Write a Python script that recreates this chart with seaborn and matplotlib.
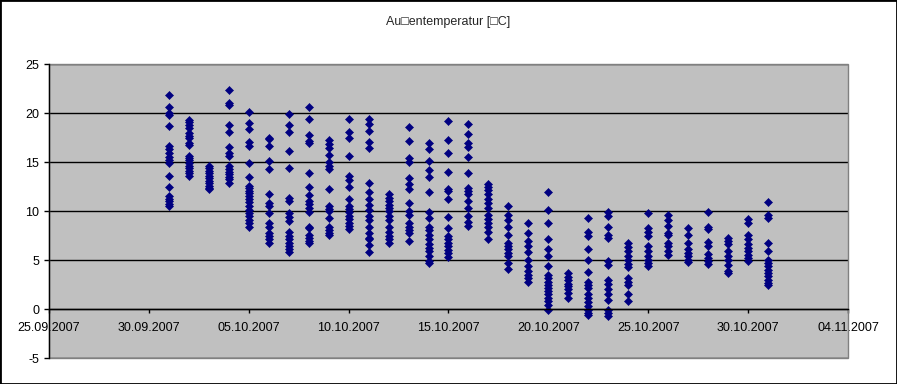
import pandas as pd
import matplotlib.pyplot as plt
import matplotlib.dates as mdates
from matplotlib.patches import Rectangle
import seaborn as sns

# =============================================================================
# Data: temperature readings per day (October 2007)
# =============================================================================

title = 'Au\u25a1entemperatur [\u25a1C]'

d01 = [21.8, 20.6, 20.0, 19.8, 18.7, 16.6, 16.3, 15.9, 15.5, 15.2, 14.9, 13.6, 12.4, 11.5, 11.2, 11.0, 10.7, 10.5]
d02 = [19.3, 19.1, 18.8, 18.5, 18.0, 17.7, 17.4, 16.9, 16.7, 15.6, 15.4, 15.2, 14.9, 14.6, 14.4, 14.1, 13.9, 13.6]
d03 = [14.6, 14.4, 14.1, 13.9, 13.6, 13.4, 13.1, 12.9, 12.6, 12.3, 12.2]
d04 = [22.3, 21.0, 20.8, 18.8, 18.1, 16.5, 15.9, 15.6, 14.6, 14.3, 14.0, 13.8, 13.5, 13.3, 12.9]
d05 = [20.1, 19.0, 18.4, 17.0, 16.6, 14.9, 13.5, 12.6, 12.3, 12.0, 11.8, 11.5, 11.2, 10.9, 10.5, 10.1, 9.8, 9.5, 9.1, 8.8, 8.4]
d06 = [17.4, 17.3, 16.6, 15.1, 14.3, 11.7, 10.8, 10.5, 9.8, 8.8, 8.4, 7.8, 7.4, 7.1, 6.7]
d07 = [19.9, 18.8, 18.1, 16.1, 14.4, 11.3, 11.0, 9.8, 9.4, 9.0, 7.9, 7.4, 7.1, 6.7, 6.4, 6.1, 5.8]
d08 = [20.6, 19.4, 17.8, 17.1, 16.9, 13.9, 12.4, 11.6, 11.0, 10.7, 10.3, 9.9, 8.4, 8.3, 7.6, 7.2, 6.9, 6.7]
d09 = [17.2, 16.8, 16.4, 15.7, 15.0, 14.6, 14.3, 12.2, 10.5, 10.2, 10.0, 9.3, 8.4, 8.1, 7.8, 7.6]
d10 = [19.4, 18.1, 17.4, 15.6, 13.6, 13.2, 12.4, 11.2, 10.5, 10.2, 9.9, 9.5, 9.2, 8.8, 8.5, 8.2]
d11 = [19.4, 18.9, 18.2, 17.0, 16.4, 12.9, 11.9, 11.2, 10.6, 10.1, 9.5, 9.1, 8.4, 7.8, 7.2, 7.1, 6.5, 5.8]
d12 = [11.7, 11.3, 11.0, 10.6, 10.3, 10.0, 9.5, 9.1, 8.4, 7.9, 7.4, 7.1, 6.7]
d13 = [18.6, 17.1, 15.4, 15.0, 13.4, 12.8, 12.2, 10.8, 10.0, 9.6, 8.8, 8.4, 8.1, 7.8, 6.9]
d14 = [16.9, 16.3, 15.1, 14.2, 13.5, 11.9, 9.9, 9.3, 8.4, 8.1, 7.6, 7.1, 6.6, 6.2, 5.9, 5.4, 4.9, 4.7]
d15 = [19.2, 17.2, 15.9, 14.0, 12.2, 12.0, 11.2, 9.4, 8.3, 7.4, 7.1, 6.7, 6.4, 6.0, 5.7, 5.3]
d16 = [18.9, 17.9, 16.9, 16.5, 15.5, 13.9, 12.3, 12.0, 11.7, 11.0, 10.3, 9.5, 8.9, 8.5]
d17 = [12.8, 12.4, 12.1, 11.7, 11.2, 10.8, 10.3, 9.6, 9.2, 8.8, 8.4, 7.9, 7.1]
d18 = [10.5, 9.6, 9.1, 8.4, 7.6, 6.7, 6.4, 6.1, 5.7, 5.4, 4.7, 4.1]
d19 = [8.8, 7.8, 6.9, 6.4, 5.8, 5.0, 4.4, 3.9, 3.5, 3.2, 2.8]
d20 = [11.9, 10.1, 8.8, 7.1, 6.1, 5.4, 4.4, 3.5, 3.2, 2.8, 2.5, 2.1, 1.8, 1.5, 1.1, 0.8, 0.4, -0.1]
d21 = [3.7, 3.3, 3.0, 2.6, 2.3, 2.0, 1.6, 1.1]
d22 = [9.3, 7.9, 7.4, 6.1, 5.0, 3.8, 2.8, 2.5, 2.1, 1.5, 1.1, 0.7, 0.3, -0.1, -0.4, -0.6]
d23 = [9.9, 9.5, 8.4, 7.6, 7.2, 4.9, 4.5, 3.0, 2.6, 2.0, 1.5, 0.9, -0.1, -0.4, -0.7]
d24 = [6.7, 6.3, 5.9, 5.4, 5.0, 4.6, 4.3, 3.2, 2.8, 2.5, 1.5, 0.8]
d25 = [9.8, 8.3, 7.9, 7.4, 6.4, 5.9, 5.4, 5.0, 4.7, 4.4]
d26 = [9.6, 9.1, 8.5, 7.8, 7.6, 6.7, 6.4, 5.9, 5.5]
d27 = [8.3, 7.6, 6.7, 6.1, 5.7, 5.4, 5.0, 4.8]
d28 = [9.9, 8.4, 8.2, 6.8, 6.4, 5.6, 5.2, 4.9, 4.6]
d29 = [7.2, 6.9, 6.6, 5.9, 5.4, 5.0, 4.5, 3.9, 3.7]
d30 = [9.2, 8.8, 7.6, 7.1, 6.6, 6.2, 5.9, 5.5, 5.2, 4.9]
d31 = [10.9, 9.6, 9.3, 6.7, 5.9, 5.0, 4.7, 4.4, 4.0, 3.7, 3.4, 3.0, 2.7, 2.5]

days = ['2007-10-%02d' % i for i in range(1, 32)]
day_values = [d01, d02, d03, d04, d05, d06, d07, d08, d09, d10, d11, d12, d13, d14, d15, d16,
              d17, d18, d19, d20, d21, d22, d23, d24, d25, d26, d27, d28, d29, d30, d31]

x_ticks = ['25.09.2007', '30.09.2007', '05.10.2007', '10.10.2007', '15.10.2007',
           '20.10.2007', '25.10.2007', '30.10.2007', '04.11.2007']
y_ticks = [-5, 0, 5, 10, 15, 20, 25]

# build long table
rows = []
for day, vals in zip(days, day_values):
    for v in vals:
        rows.append({'datum': pd.Timestamp(day), 'temp': v})
df = pd.DataFrame(rows)

# =============================================================================
# Plot
# =============================================================================
sns.set_style('white')
plt.rcParams['font.family'] = ['Liberation Sans', 'DejaVu Sans']
plt.rcParams['axes.unicode_minus'] = False

fig = plt.figure(figsize=(8.97, 3.84), dpi=100)
ax = fig.add_axes([0.0546, 0.0677, 0.8908, 0.7656])
ax.set_facecolor('#C0C0C0')
ax.set_axisbelow(True)

sns.scatterplot(data=df, x='datum', y='temp', marker='D', s=17, color='#000080',
                edgecolor='#000080', linewidth=0.4, ax=ax, zorder=3)

tick_dates = pd.to_datetime(x_ticks, format='%d.%m.%Y')
ax.set_xlim(tick_dates[0], tick_dates[-1])
ax.set_xticks(tick_dates)
ax.xaxis.set_major_formatter(mdates.DateFormatter('%d.%m.%Y'))
ax.set_ylim(y_ticks[0], y_ticks[-1])
ax.set_yticks(y_ticks)

ax.grid(axis='y', color='black', linewidth=1)
ax.grid(axis='x', visible=False)

# axes: y axis black on the left, x axis crossing at 0
for side in ['top', 'right']:
    ax.spines[side].set_visible(False)
ax.spines['left'].set_color('black')
ax.spines['left'].set_linewidth(1)
ax.spines['bottom'].set_position(('data', 0))
ax.spines['bottom'].set_color('black')
ax.spines['bottom'].set_linewidth(1)
ax.spines['left'].set_zorder(4)
ax.spines['bottom'].set_zorder(4)

# gray plot area border
ax.add_patch(Rectangle((0, 0), 1, 1, transform=ax.transAxes, fill=False,
                       edgecolor='#808080', linewidth=1, zorder=2.6, clip_on=False))

ax.tick_params(axis='x', direction='out', length=3, width=1, pad=6.5,
               labelsize=9, colors='black', bottom=True)
ax.tick_params(axis='y', direction='out', length=3.6, width=1, pad=3.5,
               labelsize=9, colors='black', left=True)
ax.set_xlabel('')
ax.set_ylabel('')

fig.text(0.5, 1 - 22 / 384, title, ha='center', va='center', fontsize=9)

# black frame around the chart
fig.patches.append(Rectangle((0, 0), 1, 1, transform=fig.transFigure, fill=False,
                             edgecolor='black', linewidth=2, figure=fig))

plt.savefig('out.png', dpi=100)
